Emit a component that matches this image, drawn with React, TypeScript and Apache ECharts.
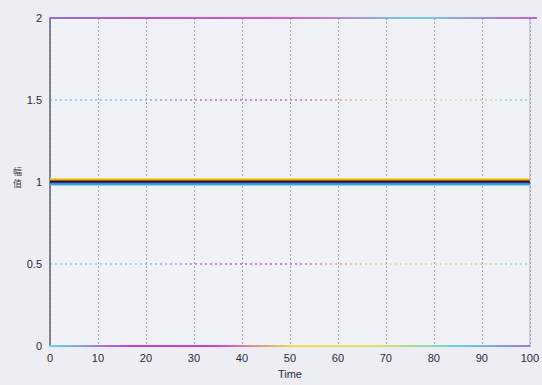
import React, { useEffect, useRef } from "react";
import * as echarts from "echarts";

const timeTicks = [0, 10, 20, 30, 40, 50, 60, 70, 80, 90, 100];
const seriesNames = ["s1", "s2", "s3", "s4", "s5"];
const seriesLevels = [1.016, 1.007, 1.0, 0.993, 0.985];
const seriesColors = ["#f2d21a", "#b05a1e", "#1a1418", "#2a3c8c", "#3aa6d8"];
const yLabelChars = ["幅", "值"];

export default function App() {
  const ref = useRef<HTMLDivElement>(null);
  useEffect(() => {
    if (!ref.current) return;
    const chart = echarts.init(ref.current, undefined, { renderer: "svg" });
    const grad = (stops: string[]) =>
      new echarts.graphic.LinearGradient(
        50, 0, 537, 0,
        stops.map((c, i) => ({ offset: i / (stops.length - 1), color: c })),
        true
      );
    const series: any[] = seriesLevels.map((v, i) => ({
      name: seriesNames[i],
      type: "line",
      showSymbol: false,
      data: timeTicks.map((t) => [t, v]),
      lineStyle: { color: seriesColors[i], width: 2.2 },
      itemStyle: { color: seriesColors[i] },
      z: 5 + i,
    }));
    chart.setOption({
      animation: false,
      backgroundColor: "#eceef4",
      grid: { left: 50, right: 5, top: 18, bottom: 39, show: true, backgroundColor: "#f1f2f7", borderColor: "#b8bac4", borderWidth: 1 },
      xAxis: {
        type: "value",
        min: 0,
        max: 100,
        interval: 10,
        name: "Time",
        nameLocation: "middle",
        nameGap: 22,
        nameTextStyle: { color: "#2a2a3a", fontSize: 11, fontFamily: "Liberation Sans" },
        axisLine: { show: true, lineStyle: { width: 2, color: grad(["#66d8e8", "#c040d8", "#d040c8", "#e8e050", "#e0e060", "#60d8e0", "#a070e0"]) } },
        axisTick: { show: false },
        axisLabel: { color: "#2a2a3a", fontSize: 11, fontFamily: "Liberation Sans", margin: 6 },
        splitLine: { show: true, lineStyle: { color: "#a0a2ac", type: [2, 2], width: 1 } },
      },
      yAxis: {
        type: "value",
        min: 0,
        max: 2,
        interval: 0.5,
        axisLine: { show: true, lineStyle: { color: "#6a6c78", width: 1.5 } },
        axisTick: { show: false },
        axisLabel: { color: "#2a2a3a", fontSize: 11, fontFamily: "Liberation Sans", margin: 8 },
        splitLine: { show: true, lineStyle: { color: grad(["#70d8e8", "#70d0e8", "#c060e0", "#c858d8", "#e0e070", "#d8e080", "#70d8e8"]), type: [2, 3], width: 1.5 } },
      },
      graphic: [
        { type: "line", z: 100, shape: { x1: 50, y1: 18, x2: 537, y2: 18 }, style: { stroke: grad(["#9070e0", "#c050d8", "#d860c8", "#70d0e8", "#c060d8"]), lineWidth: 2 } },
        ...yLabelChars.map((ch, i) => ({
          type: "text",
          x: 13,
          y: 167 + i * 12,
          style: { text: ch, fontSize: 9, fill: "#3a3a48", fontFamily: "Noto Sans CJK SC" },
        })),
      ],
      series,
    });
    return () => chart.dispose();
  }, []);
  return <div ref={ref} style={{ position: "absolute", left: 0, top: 0, width: 542, height: 385 }} />;
}
